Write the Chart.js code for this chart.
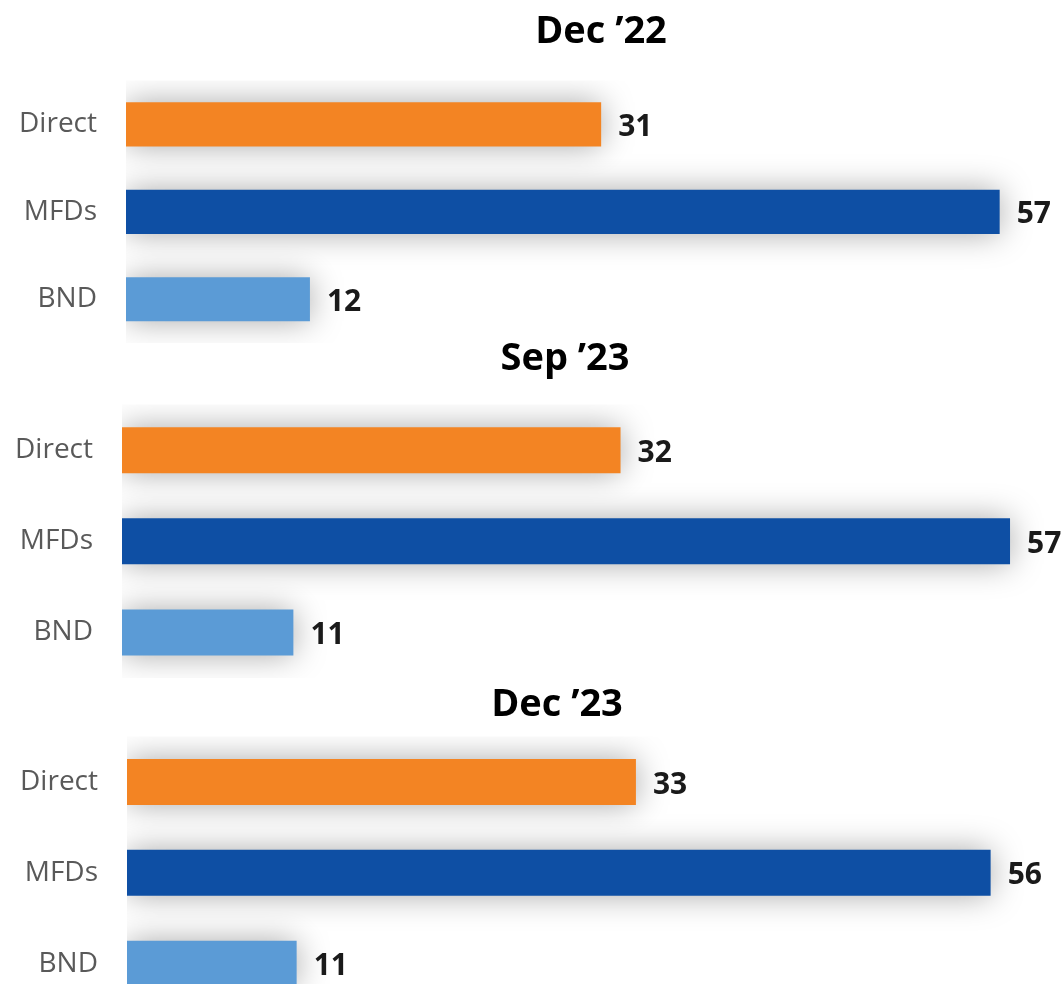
<!DOCTYPE html>
<html>
<head>
<meta charset="utf-8">
<title>Sourcing mix</title>
<script src="https://cdn.jsdelivr.net/npm/chart.js@4/dist/chart.umd.min.js"></script>
<style>
  html, body { margin: 0; padding: 0; background: #fff; width: 1063px; height: 984px; overflow: hidden; }
  .panel { position: absolute; left: 0; }
</style>
</head>
<body>
<canvas id="panel0" class="panel"></canvas>
<canvas id="panel1" class="panel"></canvas>
<canvas id="panel2" class="panel"></canvas>

<script>
// data
const periods = ["Dec \u201922", "Sep \u201923", "Dec \u201923"];
const channels = ["Direct", "MFDs", "BND"];
const direct = [31, 32, 33];
const mfds = [57, 57, 56];
const bnd = [12, 11, 11];
const barColors = ["#F38423", "#0E4FA4", "#5B9BD6"];

// panel placement (canvas width chosen so the title centres where wanted)
const panelTop = [0, 320, 660];
const panelWidth = [1202, 1130, 1114];
const panelHeight = [343, 358, 349];
const axisLeft = [126, 122, 127];
const xMax = [70.2, 64.7, 64.0];
const titlePad = [
  { top: 9, bottom: 26 },
  { top: 16, bottom: 23 },
  { top: 22, bottom: 9 },
];

// soft grey glow under the bars, then the value labels
const barDecor = {
  id: "barDecor",
  beforeDatasetsDraw(chart) {
    const ctx = chart.ctx;
    ctx.save();
    ctx.shadowColor = "rgba(0, 0, 0, 0.34)";
    ctx.shadowBlur = 32;
    ctx.shadowOffsetX = 0;
    ctx.shadowOffsetY = 0;
  },
  afterDatasetsDraw(chart) {
    const ctx = chart.ctx;
    ctx.restore();
    const ds = chart.data.datasets[0];
    const meta = chart.getDatasetMeta(0);
    ctx.save();
    ctx.font = "bold 30px 'Open Sans'";
    ctx.fillStyle = "#1a1a1a";
    ctx.textAlign = "left";
    ctx.textBaseline = "middle";
    meta.data.forEach((bar, j) => {
      ctx.fillText(String(ds.data[j]), bar.x + 17, bar.y + 3);
    });
    ctx.restore();
  },
};

periods.forEach((period, i) => {
  const canvas = document.getElementById("panel" + i);
  canvas.width = panelWidth[i];
  canvas.height = panelHeight[i];
  canvas.style.top = panelTop[i] + "px";

  new Chart(canvas.getContext("2d"), {
    type: "bar",
    data: {
      labels: channels,
      datasets: [
        {
          data: [direct[i], mfds[i], bnd[i]],
          backgroundColor: barColors,
          borderWidth: 0,
          categoryPercentage: 1,
          barPercentage: 0.505,
        },
      ],
    },
    options: {
      indexAxis: "y",
      responsive: false,
      animation: false,
      layout: { padding: 0 },
      plugins: {
        legend: { display: false },
        tooltip: { enabled: false },
        title: {
          display: true,
          text: period,
          color: "#000",
          font: { family: "'Open Sans'", size: 38, weight: "bold" },
          padding: titlePad[i],
        },
      },
      scales: {
        x: { display: false, min: 0, max: xMax[i] },
        y: {
          grid: { display: false, drawTicks: false },
          border: { display: false },
          ticks: {
            color: "#595959",
            padding: 29,
            font: { family: "'Open Sans'", size: 28 },
          },
          afterFit(scale) {
            scale.width = axisLeft[i];
            scale.paddingTop = 0;
            scale.paddingBottom = 0;
          },
        },
      },
    },
    plugins: [barDecor],
  });
});
</script>
</body>
</html>
